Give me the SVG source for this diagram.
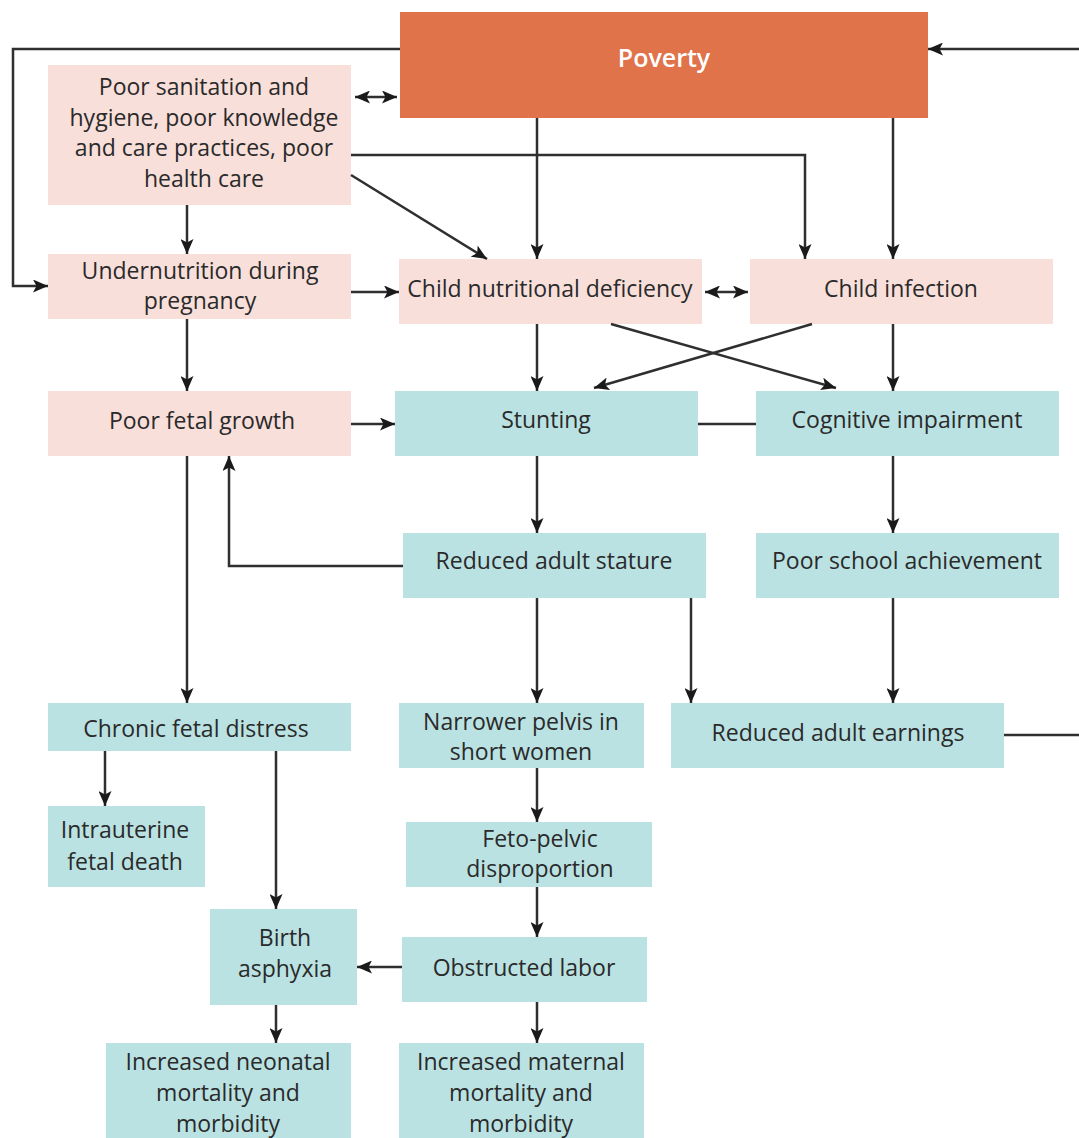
<svg xmlns="http://www.w3.org/2000/svg" width="1079" height="1138" viewBox="0 0 1079 1138">
<defs>
<marker id="ah" markerWidth="15" markerHeight="13" refX="15" refY="6.5" orient="auto-start-reverse" markerUnits="userSpaceOnUse">
<path d="M0,0 L15,6.5 L0,13 L3.5,6.5 Z" fill="#1a1a1a"/>
</marker>
<style>
.p{fill:#F9DFDA}
.t{fill:#BAE2E3}
.o{fill:#E0734A}
text{font-family:"Open Sans","Noto Sans","Liberation Sans",sans-serif;font-size:23px;fill:#2a2a2a;text-anchor:middle}
.w{fill:#ffffff;font-size:25px;font-weight:600}
.c path,.c line{stroke:#2f2f2f;stroke-width:2.5;fill:none}
.a{marker-end:url(#ah)}
.d{marker-start:url(#ah);marker-end:url(#ah)}
</style>
</defs>
<rect width="1079" height="1138" fill="#ffffff"/>

<g id="poverty"><rect class="o" x="400" y="12" width="528" height="106"/><text class="w" x="664" y="67">Poverty</text></g>
<g id="sanitation"><rect class="p" x="48" y="65" width="303" height="140"/>
<text x="204" y="95">Poor sanitation and</text><text x="204" y="126">hygiene, poor knowledge</text><text x="204" y="156">and care practices, poor</text><text x="204" y="187">health care</text></g>
<g id="undernutrition"><rect class="p" x="48" y="254" width="303" height="65"/>
<text x="200" y="279">Undernutrition during</text><text x="200" y="309">pregnancy</text></g>
<g id="childnutr"><rect class="p" x="399" y="259" width="303" height="65"/><text x="550" y="297">Child nutritional deficiency</text></g>
<g id="childinf"><rect class="p" x="750" y="259" width="303" height="65"/><text x="901" y="297">Child infection</text></g>
<g id="fetalgrowth"><rect class="p" x="48" y="391" width="303" height="65"/><text x="202" y="429">Poor fetal growth</text></g>
<g id="stunting"><rect class="t" x="395" y="391" width="303" height="65"/><text x="546" y="428">Stunting</text></g>
<g id="cognitive"><rect class="t" x="756" y="391" width="303" height="65"/><text x="907" y="428">Cognitive impairment</text></g>
<g id="stature"><rect class="t" x="403" y="533" width="303" height="65"/><text x="554" y="569">Reduced adult stature</text></g>
<g id="school"><rect class="t" x="756" y="533" width="303" height="65"/><text x="907" y="569">Poor school achievement</text></g>
<g id="distress"><rect class="t" x="48" y="703" width="303" height="48"/><text x="196" y="737">Chronic fetal distress</text></g>
<g id="pelvis"><rect class="t" x="399" y="703" width="245" height="65"/><text x="521" y="730">Narrower pelvis in</text><text x="521" y="760">short women</text></g>
<g id="earnings"><rect class="t" x="671" y="703" width="333" height="65"/><text x="838" y="741">Reduced adult earnings</text></g>
<g id="fetaldeath"><rect class="t" x="48" y="806" width="157" height="81"/><text x="125" y="838">Intrauterine</text><text x="125" y="870">fetal death</text></g>
<g id="fetopelvic"><rect class="t" x="406" y="822" width="246" height="65"/><text x="540" y="847">Feto-pelvic</text><text x="540" y="877">disproportion</text></g>
<g id="asphyxia"><rect class="t" x="210" y="909" width="147" height="96"/><text x="285" y="946">Birth</text><text x="285" y="977">asphyxia</text></g>
<g id="obstructed"><rect class="t" x="402" y="937" width="245" height="65"/><text x="524" y="976">Obstructed labor</text></g>
<g id="neonatal"><rect class="t" x="106" y="1043" width="245" height="95"/><text x="228" y="1070">Increased neonatal</text><text x="228" y="1101">mortality and</text><text x="228" y="1132">morbidity</text></g>
<g id="maternal"><rect class="t" x="399" y="1043" width="245" height="95"/><text x="521" y="1070">Increased maternal</text><text x="521" y="1101">mortality and</text><text x="521" y="1132">morbidity</text></g>

<g id="connectors" class="c">
<path class="a" d="M400,49 H13 V286 H48"/>
<path class="a" d="M1079,49 H928"/>
<path class="d" d="M355,97 H397"/>
<path class="a" d="M537,118 V259"/>
<path class="a" d="M893,118 V259"/>
<path class="a" d="M351,155 H805 V259"/>
<path class="a" d="M351,175 L487,259"/>
<path class="a" d="M187,205 V254"/>
<path class="a" d="M351,292 H399"/>
<path class="d" d="M705,292 H748"/>
<path class="a" d="M187,319 V391"/>
<path class="a" d="M537,324 V391"/>
<path class="a" d="M893,324 V391"/>
<path class="a" d="M611,324 L836,388"/>
<path class="a" d="M812,324 L594,388"/>
<path class="a" d="M351,424 H395"/>
<path d="M698,424 H756"/>
<path class="a" d="M537,456 V533"/>
<path class="a" d="M893,456 V533"/>
<path class="a" d="M403,566 H229 V456"/>
<path class="a" d="M187,456 V703"/>
<path class="a" d="M537,598 V703"/>
<path class="a" d="M691,598 V703"/>
<path class="a" d="M893,598 V703"/>
<path d="M1004,735 H1079"/>
<path class="a" d="M105,751 V806"/>
<path class="a" d="M276,751 V909"/>
<path class="a" d="M537,768 V822"/>
<path class="a" d="M537,887 V937"/>
<path class="a" d="M402,967 H357"/>
<path class="a" d="M276,1005 V1043"/>
<path class="a" d="M537,1002 V1043"/>
</g>
</svg>
